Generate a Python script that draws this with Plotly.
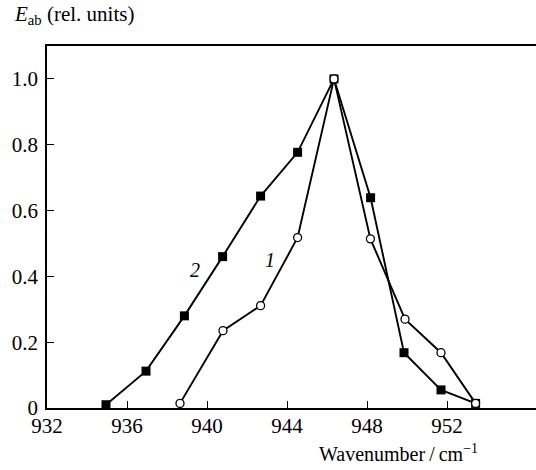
import plotly.graph_objects as go

# curve 1 (open circles) and curve 2 (filled squares)
wn_1 = [938.65, 940.8, 942.68, 944.53, 946.35, 948.17, 949.9, 951.7, 953.43]
eab_1 = [0.014, 0.235, 0.311, 0.518, 1.0, 0.514, 0.27, 0.168, 0.014]

wn_2 = [934.95, 936.95, 938.87, 940.78, 942.68, 944.53, 946.35, 948.18, 949.85, 951.7, 953.43]
eab_2 = [0.01, 0.112, 0.28, 0.46, 0.644, 0.777, 1.0, 0.639, 0.168, 0.055, 0.014]

x_ticks = [932, 936, 940, 944, 948, 952]
y_ticks = [0, 0.2, 0.4, 0.6, 0.8, 1.0]
y_tick_text = ["0", "0.2", "0.4", "0.6", "0.8", "1.0"]

FONT = "Liberation Serif"

fig = go.Figure()

fig.add_trace(go.Scatter(
    x=wn_2, y=eab_2, mode="lines+markers",
    line=dict(color="black", width=1.9),
    marker=dict(symbol="square", size=9, color="black"),
    showlegend=False
))
fig.add_trace(go.Scatter(
    x=wn_1, y=eab_1, mode="lines+markers",
    line=dict(color="black", width=1.9),
    marker=dict(symbol="circle", size=8, color="white",
                line=dict(color="black", width=1.3)),
    showlegend=False
))

# curve labels
fig.add_annotation(x=939.4, y=0.42, text="<i>2</i>", showarrow=False,
                   font=dict(family=FONT, size=20, color="black"))
fig.add_annotation(x=943.15, y=0.45, text="<i>1</i>", showarrow=False,
                   font=dict(family=FONT, size=20, color="black"))

# axis titles
fig.add_annotation(
    x=-0.072, y=1.045, xref="paper", yref="paper", xanchor="left", yanchor="bottom",
    text="<i>E</i><sub>ab</sub> (rel. units)", showarrow=False,
    font=dict(family=FONT, size=21, color="black")
)
fig.add_annotation(
    x=0.885, y=-0.085, xref="paper", yref="paper", xanchor="right", yanchor="top",
    text="Wavenumber\u2009/\u2009cm<sup>\u22121</sup>", showarrow=False,
    font=dict(family=FONT, size=20, color="black")
)

fig.update_xaxes(
    range=[932, 956.45], tickvals=x_ticks, ticks="inside", ticklen=7,
    tickwidth=1.3, tickcolor="black", showline=True, linecolor="black",
    linewidth=1.5, mirror=True, showgrid=False, zeroline=False,
    automargin=False, ticklabelstandoff=-2,
    tickfont=dict(family=FONT, size=21, color="black")
)
fig.update_yaxes(
    range=[0, 1.1], tickvals=y_ticks, ticktext=y_tick_text, ticks="inside",
    ticklen=7, tickwidth=1.3, tickcolor="black", showline=True,
    linecolor="black", linewidth=1.5, showgrid=False, zeroline=False,
    automargin=False, ticklabelstandoff=3,
    tickfont=dict(family=FONT, size=21, color="black")
)

fig.update_layout(
    width=536, height=470,
    margin=dict(l=47, r=0, t=46, b=62),
    paper_bgcolor="white", plot_bgcolor="white",
    font=dict(family=FONT, color="black")
)

# the page body has a default 8px margin; remove it so the figure fills the window
fig.write_html("out.html", config={"displayModeBar": False},
               post_script="document.body.style.margin='0';")
